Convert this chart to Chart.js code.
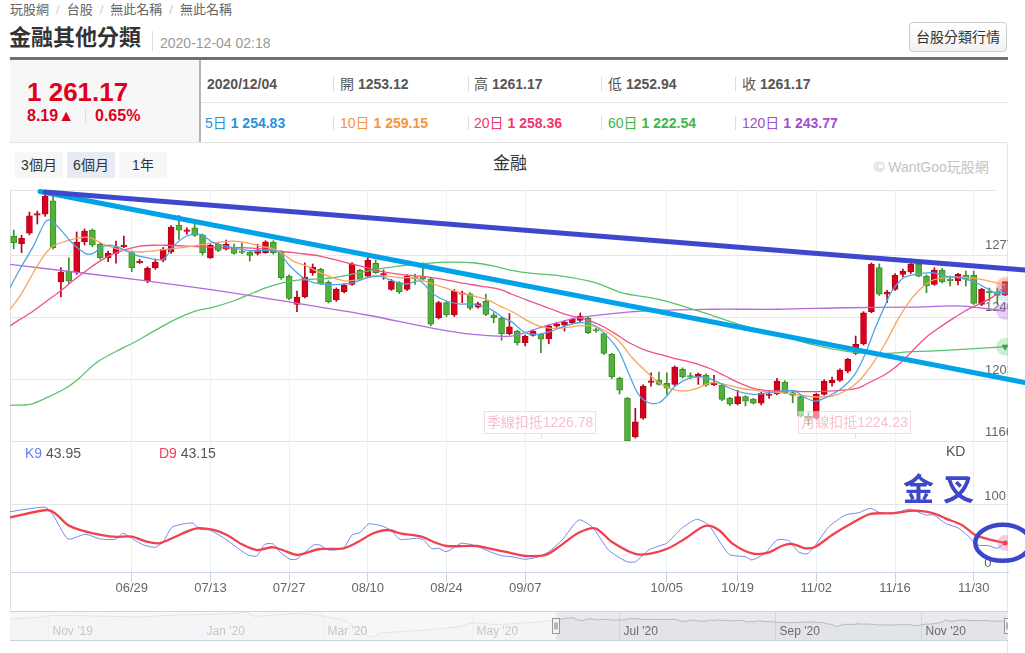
<!DOCTYPE html>
<html><head><meta charset="utf-8">
<script src="https://cdn.jsdelivr.net/npm/chart.js@4.4.1/dist/chart.umd.min.js"></script>
<style>
html,body{margin:0;padding:0;background:#fff}
body{width:1025px;height:653px;overflow:hidden;position:relative;font-family:"Liberation Sans",Arial,"Noto Sans CJK TC",sans-serif;color:#333}
.a{position:absolute;white-space:nowrap}
.sep{color:#ccc;margin:0 7px}
.vs{position:absolute;width:1px;height:14px;background:#ddd}
.b{font-weight:bold}
.btn{position:absolute;top:152px;height:26px;width:48px;background:#f7f7f7;font-size:14px;line-height:26px;text-align:center;color:#333}
.ded{position:absolute;top:411px;height:23px;box-sizing:border-box;border:1px solid rgba(240,120,150,0.28);background:rgba(255,255,255,0.55);color:rgba(238,110,140,0.45);font-size:14px;line-height:21px;text-align:center}
canvas{position:absolute}
</style></head><body>

<div class="a" style="left:10px;top:1px;font-size:13px;line-height:18px;color:#666">玩股網<span class="sep">/</span>台股<span class="sep">/</span>無此名稱<span class="sep">/</span>無此名稱</div>
<div class="a b" style="left:9px;top:23px;font-size:22px;line-height:30px;color:#333">金融其他分類</div>
<div class="a" style="left:152px;top:31px;width:1px;height:20px;background:#ddd"></div>
<div class="a" style="left:160px;top:34px;font-size:14px;line-height:18px;color:#999">2020-12-04 02:18</div>
<div class="a" style="left:909px;top:22px;width:98px;height:30px;box-sizing:border-box;border:1px solid #ccc;border-radius:4px;background:linear-gradient(#fff,#f1f1f1);font-size:14px;line-height:28px;text-align:center;color:#333">台股分類行情</div>
<div class="a" style="left:10px;top:57px;width:998px;height:3px;background:#6d7076"></div>

<div class="a" style="left:10px;top:60px;width:189px;height:82px;background:#f7f7f7"></div>
<div class="a" style="left:199px;top:60px;width:2px;height:82px;background:#b5b5b5"></div>
<div class="a" style="left:10px;top:142px;width:998px;height:1px;background:#e3e3e3"></div>
<div class="a" style="left:201px;top:102px;width:807px;height:1px;background:#e8e8e8"></div>
<div class="a b" style="left:27px;top:77px;font-size:26px;line-height:30px;color:#e1001c">1 261.17</div>
<div class="a b" style="left:27px;top:107px;font-size:16px;line-height:18px;color:#e1001c">8.19▲</div>
<div class="a" style="left:85px;top:109px;width:1px;height:14px;background:#ddd"></div>
<div class="a b" style="left:95px;top:107px;font-size:16px;line-height:18px;color:#e1001c">0.65%</div>

<div class="a b" style="left:207px;top:76px;font-size:14px;line-height:16px;color:#555">2020/12/04</div>
<div class="vs" style="left:333px;top:77px"></div><div class="a" style="left:340px;top:76px;font-size:14px;line-height:16px;color:#555">開 <span class="b">1253.12</span></div>
<div class="vs" style="left:468px;top:77px"></div><div class="a" style="left:474px;top:76px;font-size:14px;line-height:16px;color:#555">高 <span class="b">1261.17</span></div>
<div class="vs" style="left:601px;top:77px"></div><div class="a" style="left:608px;top:76px;font-size:14px;line-height:16px;color:#555">低 <span class="b">1252.94</span></div>
<div class="vs" style="left:735px;top:77px"></div><div class="a" style="left:742px;top:76px;font-size:14px;line-height:16px;color:#555">收 <span class="b">1261.17</span></div>

<div class="a" style="left:205px;top:115px;font-size:14px;line-height:16px;color:#2a92d8">5日 <span class="b">1 254.83</span></div>
<div class="vs" style="left:333px;top:116px"></div><div class="a" style="left:340px;top:115px;font-size:14px;line-height:16px;color:#f5953f">10日 <span class="b">1 259.15</span></div>
<div class="vs" style="left:468px;top:116px"></div><div class="a" style="left:474px;top:115px;font-size:14px;line-height:16px;color:#ef3670">20日 <span class="b">1 258.36</span></div>
<div class="vs" style="left:601px;top:116px"></div><div class="a" style="left:608px;top:115px;font-size:14px;line-height:16px;color:#3db74a">60日 <span class="b">1 222.54</span></div>
<div class="vs" style="left:735px;top:116px"></div><div class="a" style="left:742px;top:115px;font-size:14px;line-height:16px;color:#a04fd0">120日 <span class="b">1 243.77</span></div>

<div class="a" style="left:10px;top:190px;width:1px;height:451px;background:#e0e0e0"></div>
<div class="a" style="left:1007px;top:143px;width:1px;height:510px;background:#e6e6e6"></div>
<div class="btn" style="left:15px">3個月</div>
<div class="btn" style="left:67px;background:#e6ebf5">6個月</div>
<div class="btn" style="left:119px">1年</div>
<div class="a" style="left:460px;top:153px;width:100px;text-align:center;font-size:17px;line-height:22px;color:#333">金融</div>
<div class="a" style="left:874px;top:158px;font-size:14px;line-height:18px;color:#c4c4c4">© WantGoo玩股網</div>
<div class="a" style="left:10px;top:190px;width:986px;height:1px;background:#e3e3e3"></div>

<canvas id="main" width="998" height="252" style="left:10px;top:190px"></canvas>
<div class="a" style="left:10px;top:441px;width:998px;height:1px;background:#e3e3e3"></div>
<canvas id="kd" width="1015" height="164" style="left:10px;top:441px"></canvas>
<canvas id="nav" width="998" height="30" style="left:10px;top:611px"></canvas>

<div class="ded" style="left:484px;width:112px">季線扣抵1226.78</div>
<div class="a" style="left:541px;top:434px;width:1px;height:5px;background:rgba(240,120,150,0.3)"></div>
<div class="ded" style="left:798px;width:113px">月線扣抵1224.23</div>
<div class="a" style="left:855px;top:434px;width:1px;height:5px;background:rgba(240,120,150,0.3)"></div>

<div class="a" style="left:25px;top:445px;font-size:14px;line-height:16px;color:#555"><span style="color:#6b7ff0">K9</span> 43.95</div>
<div class="a" style="left:159px;top:445px;font-size:14px;line-height:16px;color:#555"><span style="color:#f0405a">D9</span> 43.15</div>
<div class="a" style="left:946px;top:443px;font-size:14px;line-height:16px;color:#555">KD</div>
<div class="a" style="left:903px;top:470px;font-family:'Noto Sans CJK TC',sans-serif;font-weight:bold;font-size:31px;line-height:34px;letter-spacing:9px;color:#3d47c8">金叉</div>

<canvas id="ov" width="1015" height="262" style="left:10px;top:180px"></canvas>

<script>
const FF = '"Liberation Sans", Arial, "Noto Sans CJK TC", sans-serif';
Chart.defaults.font.family = FF;

// ---- categories (trading days) ----
const dates = ['06/04','06/05','06/08','06/09','06/10','06/11','06/12','06/15','06/16','06/17','06/18','06/19','06/22','06/23','06/24','06/29','06/30',
'07/01','07/02','07/03','07/06','07/07','07/08','07/09','07/10','07/13','07/14','07/15','07/16','07/17','07/20','07/21','07/22','07/23','07/24','07/27','07/28','07/29','07/30','07/31',
'08/03','08/04','08/05','08/06','08/07','08/10','08/11','08/12','08/13','08/14','08/17','08/18','08/19','08/20','08/21','08/24','08/25','08/26','08/27','08/28','08/31',
'09/01','09/02','09/03','09/04','09/07','09/08','09/09','09/10','09/11','09/14','09/15','09/16','09/17','09/18','09/21','09/22','09/23','09/24','09/25','09/28','09/29','09/30',
'10/05','10/06','10/07','10/08','10/12','10/13','10/14','10/15','10/16','10/19','10/20','10/21','10/22','10/23','10/26','10/27','10/28','10/29','10/30',
'11/02','11/03','11/04','11/05','11/06','11/09','11/10','11/11','11/12','11/13','11/16','11/17','11/18','11/19','11/20','11/23','11/24','11/25','11/26','11/27','11/30',
'12/01','12/02','12/03','12/04'];
const tickLabels = ['06/29','07/13','07/27','08/10','08/24','09/07','10/05','10/19','11/02','11/16','11/30'];
const priceTicks = [1166,1203,1240,1277];
const kdTicks = [0,100];

// ---- OHLC ----
const open = [1288.3,1283.7,1289.9,1300.7,1301.2,1309.1,1261.0,1267.5,1267.1,1284.9,1291.8,1283.4,1275.4,1278.0,1282.0,1278.4,1272.5,1261.6,1269.5,1274.0,
1278.8,1294.6,1291.0,1293.2,1288.9,1275.4,1283.4,1280.4,1281.3,1279.1,1278.8,1278.0,1278.4,1284.7,1278.8,1264.5,1247.7,1252.1,1266.5,1268.5,
1261.0,1250.3,1255.2,1259.6,1267.9,1264.5,1272.1,1265.1,1256.6,1260.6,1256.6,1263.5,1264.5,1262.8,1239.8,1248.7,1241.4,1253.7,1254.0,1246.1,
1249.7,1241.4,1239.4,1230.3,1231.9,1224.9,1229.3,1229.9,1227.3,1234.7,1235.3,1236.8,1238.2,1239.4,1232.1,1230.3,1218.1,1203.8,1191.9,1169.0,
1180.1,1201.4,1202.6,1200.8,1200.2,1209.2,1204.8,1204.6,1205.6,1200.0,1199.8,1191.9,1188.7,1192.9,1191.5,1189.0,1193.6,1194.7,1201.6,1195.3,
1192.9,1181.3,1180.1,1194.3,1201.2,1202.6,1208.1,1218.6,1224.3,1243.3,1269.5,1253.7,1256.6,1265.5,1266.9,1271.5,1264.5,1259.6,1268.1,1262.2,
1261.6,1265.0,1265.0,1247.7,1255.6,1255.0,1253.12];
const high = [1291.8,1288.7,1302.5,1303.1,1313.8,1312.0,1269.5,1275.4,1290.7,1292.5,1292.5,1284.5,1279.3,1285.3,1288.3,1279.5,1274.5,1270.0,1274.6,1281.5,
1294.5,1300.6,1293.2,1295.4,1289.5,1283.5,1284.5,1285.9,1283.5,1284.1,1279.5,1283.4,1285.5,1285.5,1279.5,1265.3,1255.6,1272.4,1271.7,1269.2,
1261.7,1257.5,1260.0,1272.5,1268.5,1275.8,1274.0,1268.1,1262.5,1261.2,1265.2,1265.7,1272.4,1263.5,1249.5,1249.5,1256.5,1255.6,1254.7,1249.0,
1253.7,1242.7,1240.0,1242.2,1232.5,1229.5,1232.5,1230.5,1235.5,1237.0,1238.0,1239.5,1242.6,1240.0,1233.5,1231.0,1218.7,1204.5,1192.5,1186.0,
1200.0,1207.1,1207.5,1207.1,1211.2,1210.0,1207.1,1207.0,1206.5,1205.6,1200.5,1192.5,1196.7,1193.5,1192.0,1195.5,1196.7,1203.8,1202.3,1196.0,
1193.5,1183.4,1195.0,1203.0,1204.6,1209.4,1215.7,1228.9,1243.4,1272.3,1271.7,1256.0,1266.0,1268.7,1274.6,1272.3,1265.2,1269.5,1269.0,1264.5,
1266.2,1267.5,1267.5,1257.3,1257.4,1257.4,1261.17];
const low = [1280.7,1278.4,1289.0,1295.4,1300.0,1280.5,1252.1,1260.0,1265.5,1283.0,1282.0,1274.5,1273.0,1272.1,1281.3,1267.1,1272.0,1260.5,1268.5,1273.0,
1278.0,1286.3,1289.3,1288.0,1277.0,1275.0,1279.0,1280.0,1277.5,1277.8,1273.4,1277.0,1278.0,1277.5,1262.5,1250.5,1243.3,1251.5,1265.0,1259.5,
1248.5,1249.5,1254.5,1259.0,1262.0,1264.0,1266.0,1262.6,1256.0,1254.1,1256.0,1259.6,1262.0,1234.9,1239.0,1240.5,1240.5,1248.7,1244.5,1245.5,
1241.0,1236.8,1226.4,1229.5,1223.6,1223.0,1228.8,1219.0,1224.3,1234.0,1231.9,1236.0,1237.5,1230.3,1231.0,1218.0,1203.6,1194.5,1166.2,1168.3,
1179.5,1199.2,1199.7,1194.3,1199.5,1204.0,1203.5,1200.2,1199.0,1199.5,1190.5,1187.7,1188.0,1187.4,1188.5,1188.0,1191.9,1194.0,1194.7,1189.3,
1180.8,1175.7,1179.5,1193.7,1199.2,1202.0,1207.1,1218.0,1223.6,1242.7,1253.0,1248.7,1256.0,1264.0,1266.0,1264.0,1254.6,1259.0,1260.3,1258.6,
1259.2,1258.6,1247.6,1247.0,1249.7,1247.9,1252.94];
const close = [1284.3,1286.9,1300.2,1301.3,1312.0,1281.3,1266.9,1261.6,1284.7,1291.2,1282.8,1275.4,1278.0,1281.9,1282.3,1269.5,1272.8,1269.1,1272.8,1280.4,
1293.6,1291.7,1291.2,1288.7,1278.4,1282.8,1279.8,1283.4,1278.0,1278.5,1276.8,1280.0,1284.9,1278.4,1263.5,1251.3,1252.1,1263.9,1269.9,1260.0,
1249.3,1256.8,1259.2,1271.7,1262.6,1274.0,1266.5,1265.5,1261.6,1255.2,1264.5,1262.8,1262.6,1235.9,1248.7,1241.4,1255.6,1254.0,1245.4,1248.1,
1241.8,1239.8,1230.3,1234.3,1224.9,1228.9,1231.9,1227.0,1234.9,1236.2,1237.2,1238.8,1240.8,1230.9,1231.9,1218.6,1204.6,1196.7,1166.6,1177.9,
1199.2,1201.6,1200.2,1197.9,1210.5,1204.6,1204.5,1206.2,1199.7,1200.2,1191.3,1188.4,1192.9,1190.3,1189.0,1194.9,1193.8,1202.2,1195.3,1193.7,
1181.4,1179.5,1194.3,1202.2,1202.8,1208.7,1215.1,1224.0,1242.7,1271.5,1253.7,1255.0,1265.0,1267.5,1271.5,1264.5,1258.6,1268.1,1261.0,1261.8,
1265.5,1262.6,1248.3,1256.6,1254.6,1252.98,1261.17];

// ---- moving averages [dayIndex, value] ----
const ma5 = [[-0.47,1257.6],[0.8,1268.7],[2.5,1282.3],[4,1296.6],[4.6,1297.8],[5.9,1292.4],[7.4,1284.3],[9.1,1278],[10.1,1278],[11,1281.3],[12.2,1282.8],[13.5,1281.3],[15.2,1277.4],[16.9,1275.4],[19,1274.4],[20.3,1282.3],[22,1288.3],[23.7,1289.3],[25.4,1284.3],[27.9,1281.3],[30.5,1279.4],[33.4,1279.4],[35.1,1270.5],[36.8,1263.5],[38.1,1260.6],[39.8,1259.6],[41.5,1259.6],[43.2,1260.6],[44.9,1263.5],[46.5,1264.5],[48.2,1261.6],[49.9,1259.8],[51.6,1261.6],[53.3,1253.8],[55,1249.7],[56.7,1247.9],[58.4,1247.9],[60.5,1245],[62.2,1239.8],[63.3,1237.3],[65,1230.9],[66.7,1229.9],[68.4,1231.9],[70.1,1234.9],[71.8,1236.8],[73.5,1235.9],[75.2,1229.9],[76.9,1220],[78.2,1206.2],[79.4,1194.3],[80.7,1189.3],[82,1189.3],[82.8,1192.3],[84.1,1199.2],[85.8,1203.8],[87.5,1204.6],[89.2,1202.2],[90.9,1198.2],[92.6,1195.3],[94.2,1194.3],[95.9,1195.3],[97.6,1196.3],[99.3,1196.3],[100.6,1192.3],[101.9,1190.3],[103.6,1193.3],[105.3,1198.2],[106.9,1206.2],[108.2,1218.1],[109.5,1233.8],[110.8,1247.7],[111.6,1255.6],[113.1,1263.5],[114.6,1265.5],[116.7,1266.5],[118.4,1264.5],[120.1,1263.5],[121.8,1261.6],[123.5,1257.6],[124.7,1254.6],[126,1254.83]];
const ma10 = [[-0.47,1244.8],[0.8,1252.7],[2.5,1266.5],[3.8,1276.4],[5,1282.3],[6.7,1285.3],[8.4,1287.3],[9.7,1287.3],[11,1284.3],[12.7,1281.3],[14.4,1279.4],[16.05,1278.8],[17.7,1279.4],[19.4,1280.4],[21.1,1281.3],[22.8,1282.3],[24.5,1283.7],[26.2,1284.7],[27.9,1285.3],[29.6,1284.3],[31.3,1282.3],[33,1280.7],[34.3,1277.4],[35.5,1273.4],[37.2,1270.5],[38.9,1266.5],[40.6,1263.5],[42.3,1261.6],[44,1262.6],[45.7,1264.5],[47.4,1264.5],[49.1,1263.5],[50.8,1263.5],[53.3,1259.8],[56.7,1254.6],[58.4,1252.7],[60.1,1250.7],[61.8,1246.7],[63.3,1243.5],[65,1238.8],[66.7,1234.9],[68.4,1233.5],[70.1,1233.9],[71.8,1234.9],[73.5,1234.9],[75.2,1231.9],[76.9,1226],[78.6,1216],[80.3,1208.1],[82,1201.2],[83.7,1197.3],[85.4,1196.3],[87,1198.2],[88.7,1201.2],[90.4,1200.2],[92.1,1198.2],[93.8,1196.9],[95.5,1195.9],[97.2,1195.3],[98.9,1194.7],[100.6,1193.3],[102.3,1192.7],[104,1193.3],[105.7,1196.3],[107.4,1202.2],[109.1,1212.1],[110.8,1224.9],[112.5,1239.8],[114.2,1251.7],[115.9,1259.6],[117.1,1262.6],[119.7,1263.9],[122.6,1262.9],[125.1,1260.2],[126,1259.15]];
const ma20 = [[-0.47,1234.9],[0.8,1238.8],[2.5,1243.8],[4.2,1249.7],[5.9,1255.5],[7.6,1262],[9.3,1268],[11,1273.5],[12.7,1277.8],[14.4,1280.5],[16.05,1282.3],[17.7,1282.8],[19.4,1282.8],[22,1282.3],[24.5,1281.7],[27.1,1281.3],[29.6,1281.3],[32.1,1280.4],[34.7,1278.8],[36.4,1278],[38.9,1276.4],[41.5,1273.4],[44,1270.5],[46.5,1267.5],[49.1,1265.5],[51.6,1264.5],[54.2,1262.9],[56.7,1260.6],[59.3,1258.6],[61.8,1256.6],[63.3,1253.7],[65,1250.7],[66.7,1247.7],[68.4,1244.8],[70.1,1241.8],[71.8,1239.8],[73.5,1237.4],[75.2,1233.8],[76.9,1228.9],[78.6,1224],[80.3,1220.4],[82,1218.1],[83.7,1216],[85.4,1214.1],[87,1212.1],[88.7,1209.2],[90.4,1205.2],[92.1,1201.2],[93.8,1198.2],[95.5,1196.7],[97.2,1196.3],[98.9,1196.3],[100.6,1195.9],[102.3,1195.9],[104,1196.3],[105.7,1196.9],[107.4,1198.2],[109.1,1202.2],[110.8,1206.2],[112.5,1212.1],[114.2,1220],[115.9,1227.9],[117.6,1233.8],[119.2,1238.8],[120.9,1243.8],[122.6,1247.7],[124.3,1251.7],[126,1258.36]];
const ma60 = [[-0.47,1187.8],[2.1,1188.4],[4.2,1192.3],[6.7,1198.2],[8.4,1204.2],[10.5,1213.1],[13.1,1220],[15.2,1224.9],[17.7,1231.5],[20.3,1238.2],[22.8,1243.3],[25.4,1246.1],[27.9,1249.7],[30.5,1254.6],[32.1,1257.6],[34.3,1260.6],[36.4,1262.2],[40.6,1263.5],[44.9,1267.5],[49.1,1270.5],[52.5,1272.1],[55.4,1272.8],[58.4,1272.4],[60.9,1270.5],[63.3,1267.9],[65.9,1266.1],[69.7,1264.5],[73.9,1260.6],[77.3,1254.6],[82,1250.7],[87,1243.8],[92.1,1235.9],[97.2,1229.9],[101.4,1224],[105.7,1220],[109.9,1218.4],[114.2,1219.6],[118.4,1220.4],[122.6,1221.6],[126,1222.54]];
const ma120 = [[-0.47,1271.5],[16.9,1261.6],[29.8,1253.1],[35.5,1248.7],[44.9,1241.4],[53.3,1233.5],[58.4,1229.9],[63.3,1228.9],[67.6,1234.9],[71.8,1239.8],[80.3,1243.8],[88.7,1244.8],[97.2,1244.8],[105.7,1245.7],[114.2,1246.1],[120.5,1246.7],[126,1243.77]];

// ---- KD [dayIndex, value] ----
const kLine = [[-0.47,90],[4,96.6],[5,85.1],[6.9,49.3],[9.1,56.3],[11,49.3],[12.9,48.8],[13.9,57.8],[15.2,48.8],[16.5,40.3],[18,36.9],[19,45.2],[20.1,66.7],[22,72.7],[22.8,72.7],[23.7,63.7],[24.9,62.7],[27.1,47.8],[28.8,32.8],[29.8,25.4],[30.9,23.9],[31.9,41.3],[33,41.8],[33.8,30.3],[35.1,19],[36,19.4],[38.1,40.3],[38.9,40.3],[40,32.8],[41.9,35.4],[43,55.2],[44,58.7],[45.1,71.6],[46.8,68.7],[48,61.6],[49.1,48.8],[51.2,50.3],[52.1,47.8],[53.1,34.8],[54,35.4],[55,30.3],[56.9,42.8],[58.8,38.8],[60.5,30.3],[62,24.3],[63.3,22.8],[65,19],[66.7,22.8],[68,30.3],[69.7,47.8],[71.8,77.6],[73.5,67.6],[75.6,32.8],[77.9,15.4],[79,15.4],[80.7,32.8],[82.4,40.3],[83,42.8],[84.9,65.2],[86.8,78.7],[88.3,70.1],[90.9,26.4],[93,22.8],[93.8,17.9],[95.5,27.9],[97,47.8],[98.5,46.7],[99.7,30.3],[100.8,26.9],[101.7,36.9],[103.6,67.6],[105.7,85.1],[107.4,88.5],[108.9,95.1],[110.1,88.5],[112,88.5],[113.9,93.6],[115.9,85.1],[116.9,85.1],[118.4,72.7],[120.1,65.2],[121.4,52.7],[122.4,40.3],[123.9,39.3],[125,35.4],[126,43.95]];
const dLine = [[-0.47,81.6],[4.2,92.5],[5.25,87.6],[6.9,70.1],[8.2,63.7],[10.1,57.8],[12.7,52.7],[15,52.7],[16.9,45.2],[18.4,42.8],[19.65,47.8],[21.3,56.7],[23.25,65.2],[25.4,62.7],[27.1,55.2],[29,41.3],[30.9,32.8],[33,36.9],[34.7,30.3],[36,25.4],[37.65,30.3],[38.9,34.3],[41.9,35.4],[43.8,45.2],[45.7,57.8],[47.6,62.7],[49.1,57.8],[51.8,52.7],[53.3,45.2],[55,38.8],[58.8,38.8],[60.95,33.9],[63.3,27.9],[65,23.9],[67.6,25.4],[69.3,37.8],[71.8,58.7],[73.9,65.2],[76,45.2],[79,26.9],[81.1,27.9],[83.2,35.4],[85.4,50.3],[87.9,68.7],[89.6,62.7],[91.3,42.8],[93.8,27.9],[95.9,28.8],[97.6,38.8],[98.9,41.8],[100.6,35.4],[101.9,37.8],[104,55.2],[106.5,72.7],[108.9,86.6],[111.6,87.6],[114.6,91.5],[116.9,87.6],[118.4,80.1],[120.5,70.1],[122.2,55.2],[123.9,48.8],[126,43.15]];

// ---- navigator: earlier closes (dayIndex before 06/04, value) ----
const navEarlier = [[-154,1290],[-147.4,1307],[-141.8,1345],[-128.7,1334],[-117.5,1324],[-110,1345],[-100.6,1362],[-91.3,1374],[-87.5,1401],[-85.6,1334],[-77.2,1362],[-72.5,1379],[-66,1334],[-59.4,1250],[-56.6,1110],[-53.8,1026],[-51.9,998],[-50.1,1055],[-44.4,1082],[-36.9,1110],[-27.6,1166],[-24.1,1223],[-16.3,1194],[-13,1211],[-3.6,1250]];
const navMonths = ["Nov '19","Jan '20","Mar '20","May '20","Jul '20","Sep '20","Nov '20"];
const navMonthIdx = [-143.2,-100.1,-66,-24.1,17,61,102];

// ---- trend lines drawn on the chart ----
const trendDark = [[3.98,1314.4],[128.5,1268.1]];
const trendLight = [[3.34,1314.7],[128.5,1201.3]];

const XMIN = -0.47, XMAX = 126.36, XMAX_OV = 128.52;
const tickIdx = tickLabels.map(l => dates.indexOf(l));
const pts = a => a.map(p => ({x: p[0], y: p[1]}));
const UP = '#d9001e', UPB = '#b80019', DN = '#52b13a', DNB = '#3d8e28';
const isUp = close.map((c, i) => c >= open[i]);
const noPad = s => { s.paddingTop = 0; s.paddingBottom = 0; s.paddingLeft = 0; s.paddingRight = 0; };

function maSet(arr, color, halo) {
  return {type: 'line', data: pts(arr), borderColor: color, borderWidth: 1.3, tension: 0.3,
    pointRadius: c => c.dataIndex === arr.length - 1 ? 9 : 0,
    pointBackgroundColor: halo, pointBorderWidth: 0, order: 1};
}

new Chart(document.getElementById('main'), {
  type: 'bar',
  data: {datasets: [
    maSet(ma5, '#4fa6e6', 'rgba(79,166,230,0.2)'),
    maSet(ma10, '#f8a45c', 'rgba(248,164,92,0.2)'),
    maSet(ma20, '#f0508a', 'rgba(240,80,120,0.28)'),
    maSet(ma60, '#5cc26a', 'rgba(92,194,106,0.3)'),
    maSet(ma120, '#b46ad9', 'rgba(180,106,217,0.3)'),
    {type: 'line', data: pts([ma60[ma60.length - 1]]), showLine: false, pointStyle: 'triangle', rotation: 180,
      pointRadius: 4, pointBackgroundColor: '#3f9a4e', pointBorderWidth: 0, order: 0},
    {type: 'bar', data: dates.map((d, i) => ({x: i, y: [open[i], close[i]]})),
      backgroundColor: isUp.map(u => u ? UP : DN), borderColor: isUp.map(u => u ? UPB : DNB),
      borderWidth: 1, borderSkipped: false, barThickness: 6, grouped: false, minBarLength: 1.5, order: 2},
    {type: 'bar', data: dates.map((d, i) => ({x: i, y: [low[i], high[i]]})),
      backgroundColor: isUp.map(u => u ? UPB : DNB), borderWidth: 0, barThickness: 1, grouped: false, order: 3}
  ]},
  options: {
    responsive: false, animation: false, events: [],
    layout: {padding: 0, autoPadding: false},
    plugins: {legend: {display: false}, tooltip: {enabled: false}},
    scales: {
      x: {type: 'linear', min: XMIN, max: XMAX, offset: false,
        afterBuildTicks: s => { s.ticks = tickIdx.map(v => ({value: v})); },
        afterFit: s => { s.height = 0; noPad(s); },
        grid: {color: '#f0f1f4', drawTicks: false, offset: false}, border: {display: false}, ticks: {display: false}},
      y: {type: 'linear', position: 'right', min: 1166, max: 1315.6, beginAtZero: false,
        afterBuildTicks: s => { s.ticks = priceTicks.map(v => ({value: v})); },
        afterFit: s => { s.width = 0; noPad(s); },
        grid: {color: '#e6e6e6', drawTicks: false}, border: {display: false},
        ticks: {mirror: true, padding: 6, labelOffset: -9.5, crossAlign: 'far', color: '#666', font: {size: 13}, callback: v => String(v)}}
    }
  }
});

const kdAnnot = {id: 'kdAnnot', afterDraw(c) {
  const ctx = c.ctx, x = c.scales.x, y = c.scales.y;
  ctx.save(); ctx.strokeStyle = '#3c46c8'; ctx.lineWidth = 4.5;
  ctx.beginPath(); ctx.ellipse(x.getPixelForValue(125.7), y.getPixelForValue(43.5), 27.5, 18, 0, 0, Math.PI * 2); ctx.stroke();
  ctx.restore();
}};

new Chart(document.getElementById('kd'), {
  type: 'line',
  data: {datasets: [
    {data: pts([dLine[dLine.length - 1]]), showLine: false, pointRadius: 2.5, pointBackgroundColor: '#f2404f', pointBorderWidth: 0},
    {data: pts(dLine), borderColor: '#f2404f', borderWidth: 2.3, tension: 0.3,
      pointRadius: c => c.dataIndex === dLine.length - 1 ? 8 : 0, pointBackgroundColor: 'rgba(220,120,170,0.35)', pointBorderWidth: 0},
    {data: pts(kLine), borderColor: '#7088f0', borderWidth: 1, tension: 0.2, pointRadius: 0}
  ]},
  plugins: [kdAnnot],
  options: {
    responsive: false, animation: false, events: [],
    layout: {padding: {right: 17}, autoPadding: false},
    plugins: {legend: {display: false}, tooltip: {enabled: false}},
    scales: {
      x: {type: 'linear', min: XMIN, max: XMAX, offset: false,
        afterBuildTicks: s => { s.ticks = tickIdx.map(v => ({value: v})); },
        afterFit: s => { s.height = 33; noPad(s); },
        grid: {color: '#eceff3', tickColor: '#ccd6eb', tickLength: 10, offset: false},
        border: {color: '#ccd6eb'},
        ticks: {autoSkip: false, maxRotation: 0, padding: -1, color: '#666', font: {size: 13}, callback: v => dates[v]}},
      y: {type: 'linear', position: 'right', min: 0, max: 195.5,
        afterBuildTicks: s => { s.ticks = kdTicks.map(v => ({value: v})); },
        afterFit: s => { s.width = 0; noPad(s); },
        grid: {color: c => c.tick && c.tick.value === 0 ? 'rgba(0,0,0,0)' : '#e6e6e6', drawTicks: false}, border: {display: false},
        ticks: {mirror: true, padding: -2, labelOffset: -9, crossAlign: 'far', color: '#666', font: {size: 13}, callback: v => String(v)}}
    }
  }
});

const navDeco = {id: 'navDeco',
  beforeDatasetsDraw(c) {
    const {ctx, chartArea: a, scales: {x}} = c;
    ctx.save();
    ctx.fillStyle = '#e8eaee'; ctx.fillRect(a.left, a.top, a.width, a.height);
    ctx.strokeStyle = '#d3d8df'; ctx.lineWidth = 1;
    ctx.font = '12px ' + FF; ctx.textBaseline = 'middle'; ctx.fillStyle = '#555';
    navMonthIdx.forEach((v, k) => {
      const px = Math.round(x.getPixelForValue(v)) + 0.5;
      ctx.beginPath(); ctx.moveTo(px, a.top); ctx.lineTo(px, a.bottom); ctx.stroke();
      ctx.fillText(navMonths[k], px + 4, a.top + 21);
    });
    ctx.restore();
  },
  afterDatasetsDraw(c) {
    const {ctx, chartArea: a, scales: {x}} = c;
    const s0 = x.getPixelForValue(-0.5), s1 = x.getPixelForValue(126.5);
    ctx.save();
    ctx.fillStyle = 'rgba(255,255,255,0.62)'; ctx.fillRect(a.left, a.top, s0 - a.left, a.height);
    ctx.strokeStyle = '#cdd3dc'; ctx.lineWidth = 1;
    ctx.beginPath(); ctx.moveTo(a.left, a.top + 0.5); ctx.lineTo(a.right, a.top + 0.5);
    ctx.moveTo(a.left, a.bottom - 0.5); ctx.lineTo(a.right, a.bottom - 0.5); ctx.stroke();
    [s0, s1].forEach(px => {
      const hx = Math.round(px) - 3.5, hy = a.top + 7.5;
      ctx.fillStyle = '#f4f4f4'; ctx.strokeStyle = '#999';
      ctx.fillRect(hx, hy, 7, 15); ctx.strokeRect(hx, hy, 7, 15);
      ctx.beginPath(); ctx.moveTo(hx + 2.5, hy + 4); ctx.lineTo(hx + 2.5, hy + 11); ctx.moveTo(hx + 4.5, hy + 4); ctx.lineTo(hx + 4.5, hy + 11);
      ctx.strokeStyle = '#777'; ctx.stroke();
    });
    ctx.restore();
  }
};

new Chart(document.getElementById('nav'), {
  type: 'line',
  data: {datasets: [{data: pts(navEarlier).concat(close.map((c, i) => ({x: i, y: c}))),
    borderColor: '#b3b8c0', borderWidth: 1, pointRadius: 0, tension: 0.2, fill: 'start', backgroundColor: 'rgba(200,205,212,0.18)'}]},
  plugins: [navDeco],
  options: {
    responsive: false, animation: false, events: [],
    layout: {padding: 0, autoPadding: false},
    plugins: {legend: {display: false}, tooltip: {enabled: false}},
    scales: {x: {type: 'linear', display: false, min: -154, max: XMAX}, y: {display: false, min: 930, max: 1418}}
  }
});

new Chart(document.getElementById('ov'), {
  type: 'line',
  data: {datasets: [
    {data: pts(trendDark), borderColor: '#3f48cc', borderWidth: 5, pointRadius: 0, borderCapStyle: 'round', clip: false},
    {data: pts(trendLight), borderColor: '#00a2e8', borderWidth: 5, pointRadius: 0, borderCapStyle: 'round', clip: false}
  ]},
  options: {
    responsive: false, animation: false, events: [],
    layout: {padding: {top: 10}, autoPadding: false},
    plugins: {legend: {display: false}, tooltip: {enabled: false}},
    scales: {x: {type: 'linear', display: false, min: XMIN, max: XMAX_OV}, y: {display: false, min: 1166, max: 1315.6}}
  }
});
</script>
</body></html>
